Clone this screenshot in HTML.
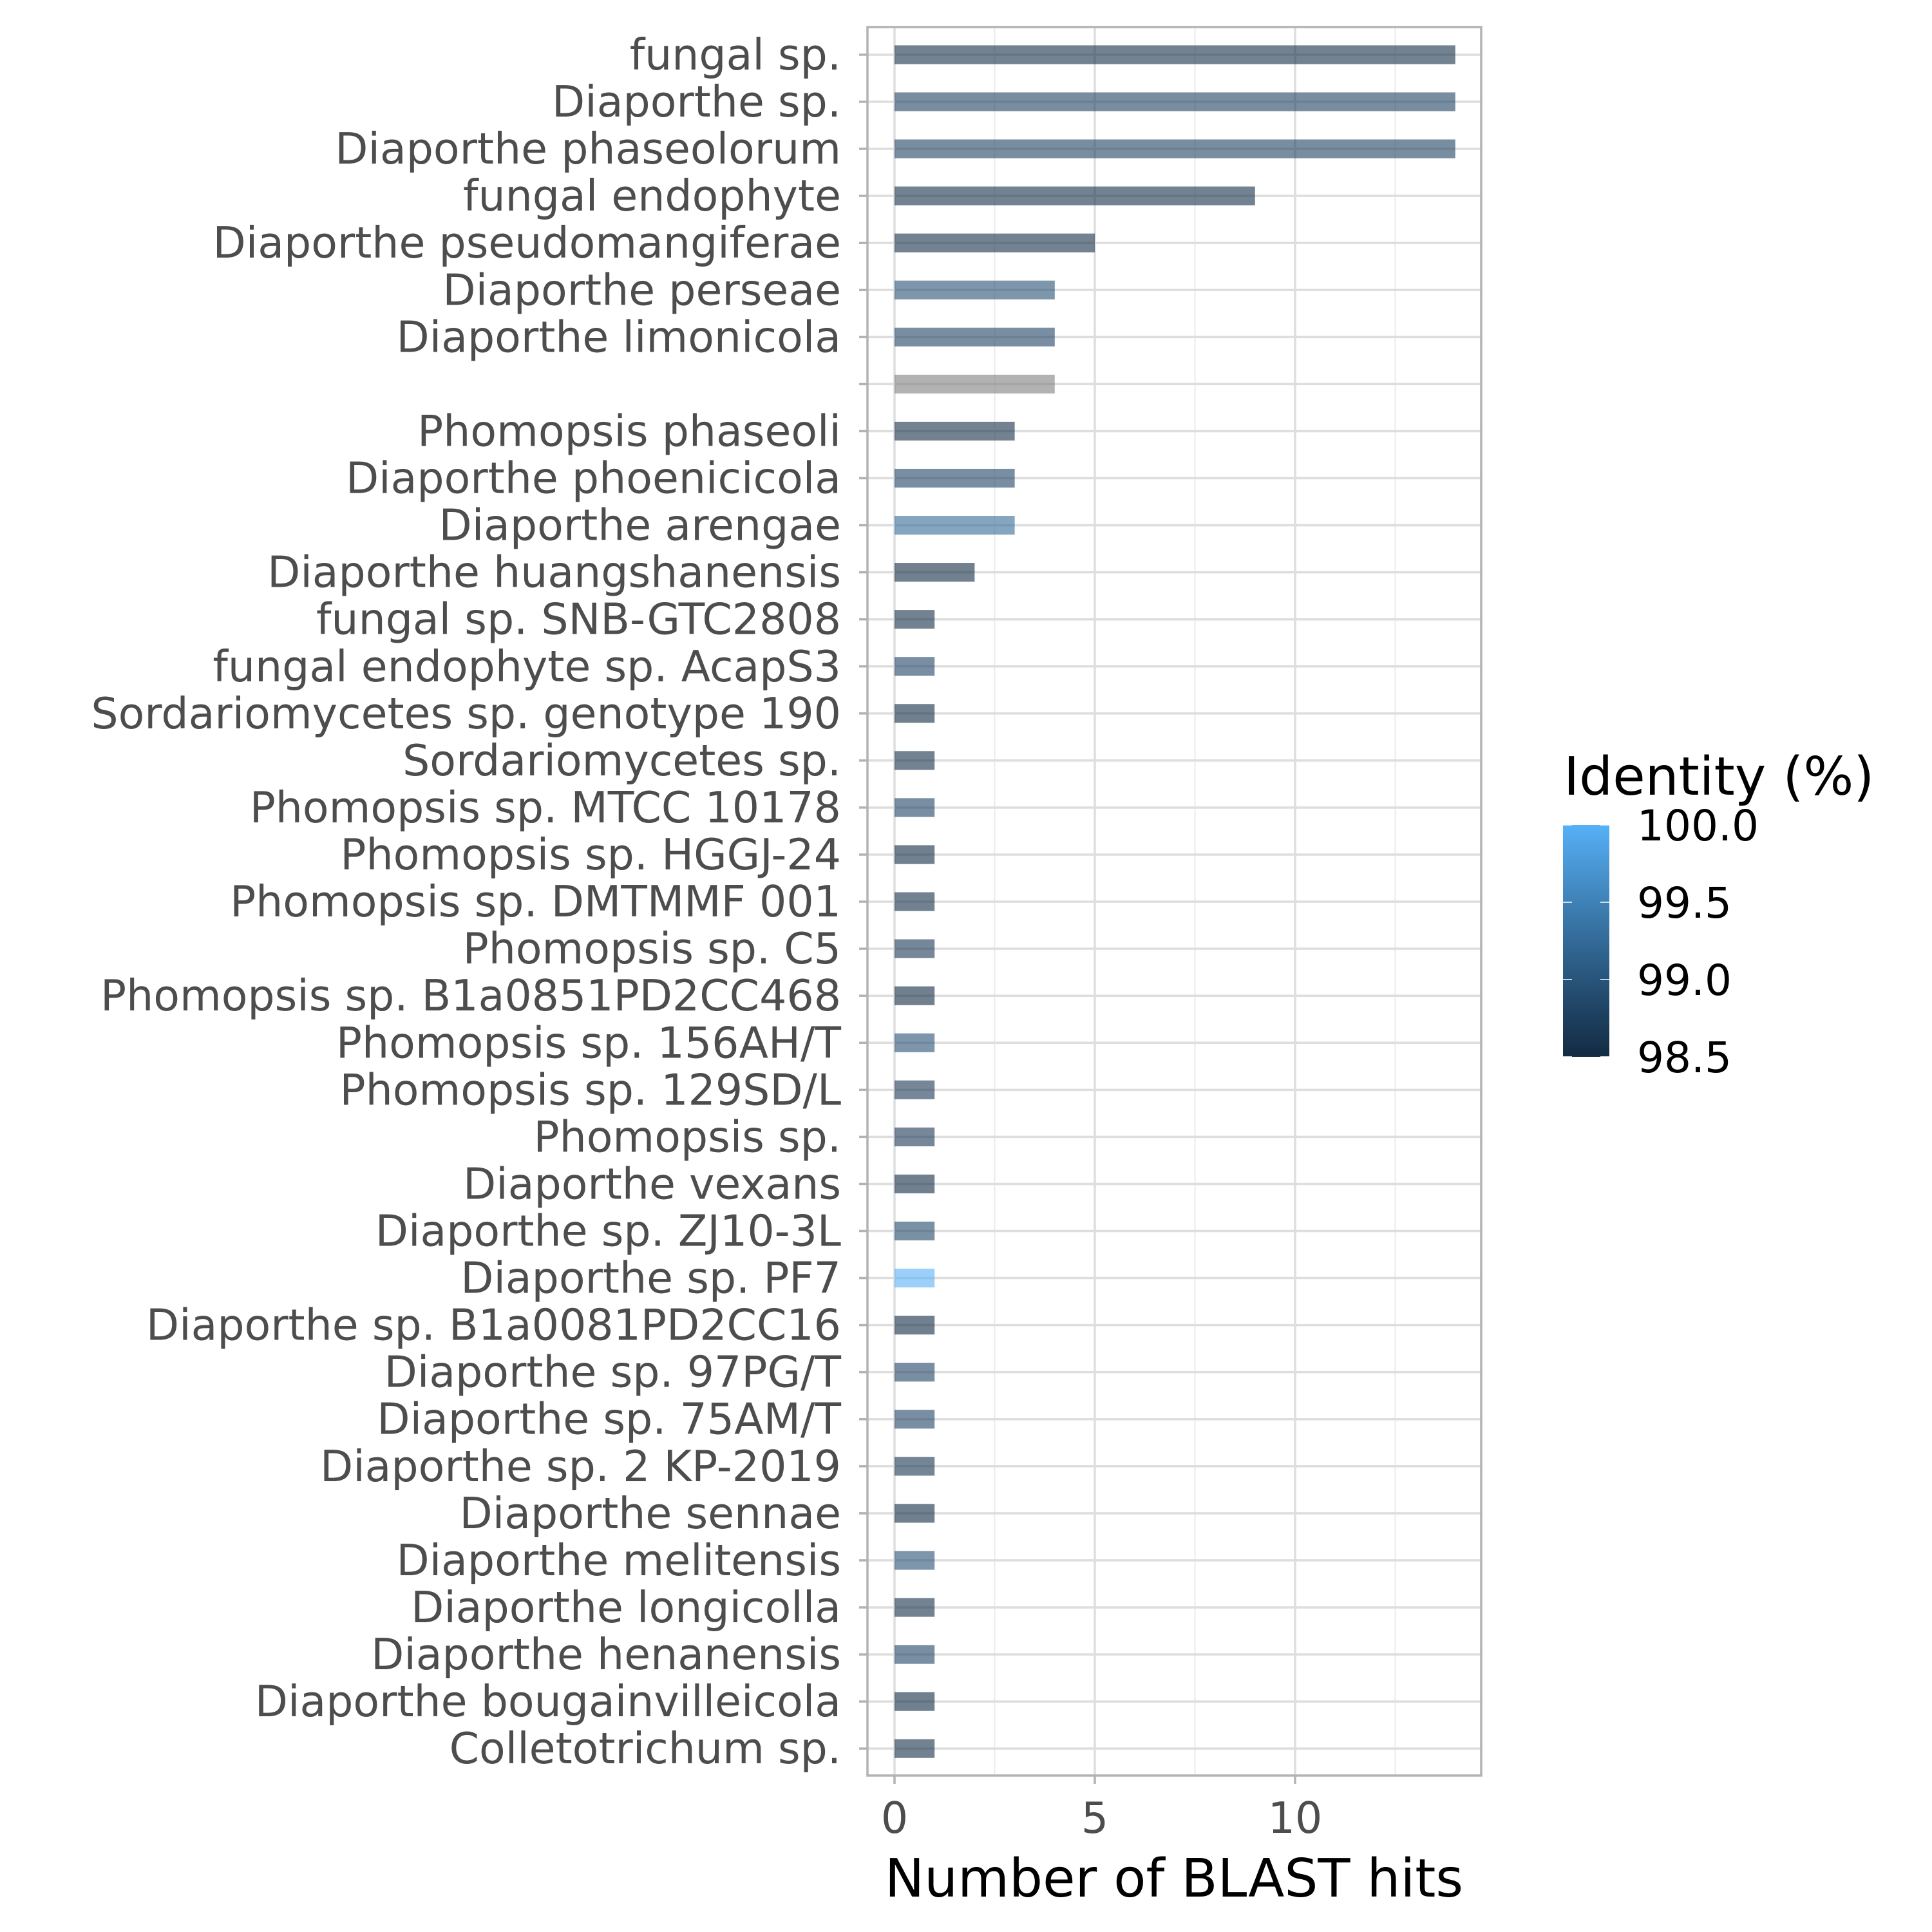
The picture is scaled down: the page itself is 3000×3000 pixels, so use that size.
<!DOCTYPE html>
<html><head><meta charset="utf-8"><style>html,body{margin:0;padding:0;background:#fff}svg{display:block}</style></head>
<body>
<svg id="chart" width="3000" height="3000" viewBox="0 0 3000 3000" xmlns="http://www.w3.org/2000/svg" font-family="'DejaVu Sans','Liberation Sans',sans-serif">
<defs><linearGradient id="cg" x1="0" y1="1" x2="0" y2="0"></linearGradient></defs>
<rect width="3000" height="3000" fill="#fff"/>
<g id="grid"></g><g id="bars"></g><g id="axes"></g>
<g>
<text x="2428" y="1234" font-size="82" fill="#000">Identity (%)</text>
<rect x="2427" y="1281" width="72" height="360" fill="url(#cg)"/>
<g id="legticks"></g>
</g>
<text x="1823" y="2945" font-size="82" text-anchor="middle" fill="#000">Number of BLAST hits</text>
</svg>
<script>
const categories=["fungal sp.","Diaporthe sp.","Diaporthe phaseolorum","fungal endophyte","Diaporthe pseudomangiferae","Diaporthe perseae","Diaporthe limonicola","","Phomopsis phaseoli","Diaporthe phoenicicola","Diaporthe arengae","Diaporthe huangshanensis","fungal sp. SNB-GTC2808","fungal endophyte sp. AcapS3","Sordariomycetes sp. genotype 190","Sordariomycetes sp.","Phomopsis sp. MTCC 10178","Phomopsis sp. HGGJ-24","Phomopsis sp. DMTMMF 001","Phomopsis sp. C5","Phomopsis sp. B1a0851PD2CC468","Phomopsis sp. 156AH/T","Phomopsis sp. 129SD/L","Phomopsis sp.","Diaporthe vexans","Diaporthe sp. ZJ10-3L","Diaporthe sp. PF7","Diaporthe sp. B1a0081PD2CC16","Diaporthe sp. 97PG/T","Diaporthe sp. 75AM/T","Diaporthe sp. 2 KP-2019","Diaporthe sennae","Diaporthe melitensis","Diaporthe longicolla","Diaporthe henanensis","Diaporthe bougainvilleicola","Colletotrichum sp."];
const hits=[14,14,14,9,5,4,4,4,3,3,3,2,1,1,1,1,1,1,1,1,1,1,1,1,1,1,1,1,1,1,1,1,1,1,1,1,1];
const identity=[98.55,98.78,98.78,98.55,98.55,98.95,98.8,null,98.55,98.8,99.25,98.5,98.55,98.8,98.5,98.55,98.8,98.5,98.55,98.65,98.5,98.95,98.65,98.65,98.5,98.85,100,98.5,98.8,98.8,98.6,98.5,98.95,98.55,98.8,98.5,98.55];
const xTicks=[0,5,10];
const xMinor=[2.5,7.5,12.5];
const legendTicks=[98.5,99.0,99.5,100.0];

const NS="http://www.w3.org/2000/svg";
const PL=1347,PR=2300,PT=42,PB=2757;
const X0=1389,XS=62.2;
const Y0=85,YS=73.06;
const xs=v=>X0+v*XS, ys=i=>Y0+i*YS;
function mk(tag,attrs,parent){const e=document.createElementNS(NS,tag);for(const k in attrs)e.setAttribute(k,attrs[k]);parent.appendChild(e);return e;}
function s2l(c){c/=255;return c<=0.04045?c/12.92:Math.pow((c+0.055)/1.055,2.4);}
function l2s(c){c=c<=0.0031308?12.92*c:1.055*Math.pow(c,1/2.4)-0.055;return Math.round(Math.max(0,Math.min(1,c))*255);}
function toLab(rgb){const [r,g,b]=rgb.map(s2l);let x=(0.4124*r+0.3576*g+0.1805*b)/0.95047,y=0.2126*r+0.7152*g+0.0722*b,z=(0.0193*r+0.1192*g+0.9505*b)/1.08883;
const f=t=>t>0.008856?Math.cbrt(t):7.787*t+16/116;x=f(x);y=f(y);z=f(z);return[116*y-16,500*(x-y),200*(y-z)];}
function fromLab(l){let y=(l[0]+16)/116,x=l[1]/500+y,z=y-l[2]/200;const fi=t=>t*t*t>0.008856?t*t*t:(t-16/116)/7.787;
x=fi(x)*0.95047;y=fi(y);z=fi(z)*1.08883;const r=3.2406*x-1.5372*y-0.4986*z,g=-0.9689*x+1.8758*y+0.0415*z,b=0.0557*x-0.2040*y+1.0570*z;return[l2s(r),l2s(g),l2s(b)];}
const LA=toLab([0x13,0x2B,0x43]),LB=toLab([0x56,0xB1,0xF7]);
function colT(t){return"rgb("+fromLab(LA.map((c,i)=>c+(LB[i]-c)*t)).join(",")+")";}
function col(v){if(v==null)return"#7f7f7f";return colT(Math.max(0,Math.min(1,(v-98.5)/1.5)));}
const cg=document.getElementById("cg");
for(let k=0;k<=10;k++){mk("stop",{offset:k/10,"stop-color":colT(k/10)},cg);}
const grid=document.getElementById("grid"),bars=document.getElementById("bars"),axes=document.getElementById("axes");
xMinor.forEach(v=>{const l=mk("line",{x1:xs(v),x2:xs(v),y1:PT,y2:PB,stroke:"#ebebeb","stroke-width":2},grid);

});
xTicks.forEach(v=>{const l=mk("line",{x1:xs(v),x2:xs(v),y1:PT,y2:PB,stroke:"#dedede","stroke-width":3.5},grid);

});
categories.forEach((c,i)=>{const l=mk("line",{x1:PL,x2:PR,y1:ys(i),y2:ys(i),stroke:"#dedede","stroke-width":3.5},grid);


const r=mk("rect",{x:xs(0),y:ys(i)-14.6,width:hits[i]*XS,height:29.2,fill:col(identity[i]),"fill-opacity":0.6},bars);


const t=mk("line",{x1:PL-13,x2:PL,y1:ys(i),y2:ys(i),stroke:"#b3b3b3","stroke-width":3.5},axes);


const tx=mk("text",{x:1306,y:ys(i)+23,"font-size":66.5,"text-anchor":"end",fill:"#4d4d4d"},axes);tx.textContent=c;

});
const border=mk("rect",{x:PL,y:PT,width:PR-PL,height:PB-PT,fill:"none",stroke:"#b3b3b3","stroke-width":3.5},axes);


xTicks.forEach(v=>{const t=mk("line",{x1:xs(v),x2:xs(v),y1:PB,y2:PB+13,stroke:"#b3b3b3","stroke-width":3.5},axes);


const tx=mk("text",{x:xs(v),y:2846,"font-size":66.5,"text-anchor":"middle",fill:"#4d4d4d"},axes);tx.textContent=String(v);

});
const lg=document.getElementById("legticks");
legendTicks.forEach(v=>{const y=1641-(v-98.5)/1.5*360;
[[2427,2441],[2485,2499]].forEach(p=>{const l=mk("line",{x1:p[0],x2:p[1],y1:y,y2:y,stroke:"#fff","stroke-width":1.5},lg);

});
const tx=mk("text",{x:2542,y:y+24,"font-size":66,fill:"#000"},lg);tx.textContent=v.toFixed(1);

});
</script>
</body></html>
